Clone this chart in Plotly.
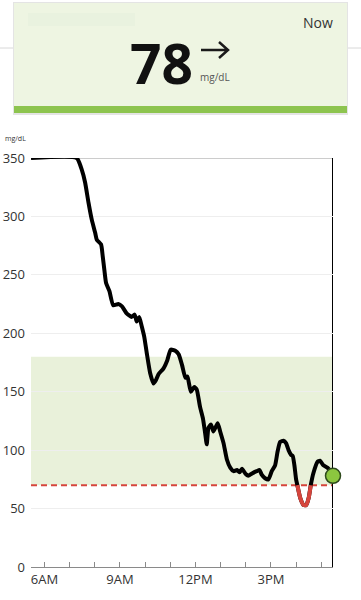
import plotly.graph_objects as go

DAY = "2024-01-01 "
times = ["05:28","07:17","07:29","07:37","07:45","07:53","08:01","08:05","08:15","08:19","08:23","08:27","08:35","08:44","08:56","09:05","09:16","09:28","09:35","09:40","09:46","09:52","09:58","10:04","10:12","10:20","10:26","10:32","10:44","10:53","11:01","11:12","11:20","11:28","11:36","11:41","11:49","11:57","12:03","12:11","12:18","12:23","12:27","12:31","12:37","12:43","12:53","12:59","13:07","13:15","13:23","13:31","13:39","13:45","13:51","13:59","14:06","14:15","14:26","14:33","14:38","14:46","14:54","15:02","15:10","15:16","15:22","15:30","15:36","15:42","15:48","15:52","15:56","16:00","16:03","16:10","16:18","16:24","16:30","16:35","16:41","16:51","16:57","17:05","17:15","17:25","17:28"]
glucose = [350,350,340,329,312,297,286,280,276,266,254,243,236,224,225,223,217,214,216,210,214,206,197,183,166,157,160,165,170,177,186,185,182,173,162,163,150,154,152,137,127,115,105,119,122,116,123,116,106,92,85,82,83,81,84,80,78,80,82,83,79,76,75,82,87,99,107,108,106,100,96,95,87,75,70,59,53,53,59,70,80,90,91,87,85,80,78]

tick_times = ["06:00","07:00","08:00","09:00","10:00","11:00","12:00","13:00","14:00","15:00","16:00","17:00"]
tick_labels = ["6AM","","","9AM","","","12PM","","","3PM","",""]
y_ticks = [0, 50, 100, 150, 200, 250, 300, 350]
x_range = ["05:28", "17:28"]

LOW = 70
HIGH = 180
current_value = "78"

x = [DAY + t for t in times]
low_x = [DAY + t for t, v in zip(times, glucose) if v <= LOW]
low_y = [v for v in glucose if v <= LOW]

fig = go.Figure()
fig.add_trace(go.Scatter(x=x, y=glucose, mode="lines",
                         line=dict(color="#000000", width=4, shape="spline", smoothing=0.5),
                         hoverinfo="skip", showlegend=False, cliponaxis=False))
fig.add_trace(go.Scatter(x=low_x, y=low_y, mode="lines",
                         line=dict(color="#d6453c", width=4, shape="spline", smoothing=0.5),
                         hoverinfo="skip", showlegend=False))
fig.add_trace(go.Scatter(x=[x[-1]], y=[glucose[-1]], mode="markers",
                         marker=dict(size=15, color="#8cc63f", line=dict(color="#2e4a1c", width=1.5)),
                         hoverinfo="skip", showlegend=False, cliponaxis=False))

# plot area in pixels: x 31..333, y 158..567
L, R, T, B = 31, 333, 158, 567
W, H = R - L, B - T
def px(xp): return (xp - L) / W
def py(yp): return (B - yp) / H

shapes = [
    dict(type="rect", xref="paper", yref="y", x0=0, x1=1, y0=LOW, y1=HIGH,
         fillcolor="#e9f1da", line=dict(width=0), layer="below"),
    dict(type="line", xref="paper", yref="y", x0=0, x1=1, y0=LOW, y1=LOW,
         line=dict(color="#d6453c", width=2, dash="6px,4px"), layer="below"),
    dict(type="line", xref="paper", yref="y", x0=0, x1=1, y0=350, y1=350,
         line=dict(color="#9a9a9a", width=1), layer="below"),
    dict(type="line", xref="x", yref="paper", x0=x[-1], x1=x[-1], y0=0, y1=1,
         line=dict(color="#000000", width=2), layer="below"),
    dict(type="line", xref="paper", yref="paper", x0=px(0), x1=px(361), y0=py(48), y1=py(48),
         line=dict(color="#d8d8d8", width=1)),
    dict(type="rect", xref="paper", yref="paper", x0=px(13), x1=px(348), y0=py(115), y1=py(2),
         fillcolor="#e4e4e4", line=dict(width=0)),
    dict(type="rect", xref="paper", yref="paper", x0=px(14), x1=px(347), y0=py(113), y1=py(3),
         fillcolor="#eef5e2", line=dict(width=0)),
    dict(type="rect", xref="paper", yref="paper", x0=px(14), x1=px(347), y0=py(113), y1=py(106),
         fillcolor="#8dc44f", line=dict(width=0)),
    dict(type="rect", xref="paper", yref="paper", x0=px(28), x1=px(135), y0=py(26), y1=py(13),
         fillcolor="#e9f2df", line=dict(width=0)),
    dict(type="path", xref="paper", yref="paper",
         path=f"M {px(201)},{py(50)} L {px(228)},{py(50)} M {px(219)},{py(42)} L {px(228)},{py(50)} L {px(219)},{py(58)}",
         line=dict(color="#1a1a1a", width=2.5)),
]

annotations = [
    dict(xref="paper", yref="paper", x=px(161), y=py(62), text="<b>" + current_value + "</b>",
         showarrow=False, font=dict(family="Open Sans", size=55, color="#111111"),
         xanchor="center", yanchor="middle"),
    dict(xref="paper", yref="paper", x=px(215), y=py(77), text="mg/dL", showarrow=False,
         font=dict(family="Open Sans", size=10, color="#555555"), xanchor="center", yanchor="middle"),
    dict(xref="paper", yref="paper", x=px(318), y=py(22), text="Now", showarrow=False,
         font=dict(family="Open Sans", size=14, color="#333333"), xanchor="center", yanchor="middle"),
    dict(xref="paper", yref="paper", x=px(15), y=py(145), text="mg/dL", showarrow=False,
         font=dict(family="Open Sans", size=7, color="#333333"), xanchor="center", yanchor="bottom"),
]

fig.update_layout(
    width=361, height=600,
    margin=dict(l=L, r=361 - R, t=T, b=600 - B, pad=0, autoexpand=False),
    paper_bgcolor="#ffffff", plot_bgcolor="#ffffff",
    font=dict(family="Open Sans", size=13, color="#333333"),
    shapes=shapes, annotations=annotations,
    xaxis=dict(type="date", range=[DAY + x_range[0], DAY + x_range[1]],
               tickmode="array", tickvals=[DAY + t for t in tick_times], ticktext=tick_labels,
               ticks="inside", ticklen=5, tickcolor="#8a8a8a", showgrid=False, automargin=False,
               showline=True, linecolor="#8a8a8a", linewidth=1, zeroline=False, fixedrange=True),
    yaxis=dict(range=[0, 350], tickmode="array", tickvals=y_ticks, automargin=False,
               showgrid=True, gridcolor="#eeeeee", gridwidth=1, zeroline=False,
               showline=False, ticks="", ticklabelstandoff=5, fixedrange=True),
)

fig.write_html("out.html", config={"displayModeBar": False},
               post_script="document.body.style.margin='0';document.body.style.overflow='hidden';")
